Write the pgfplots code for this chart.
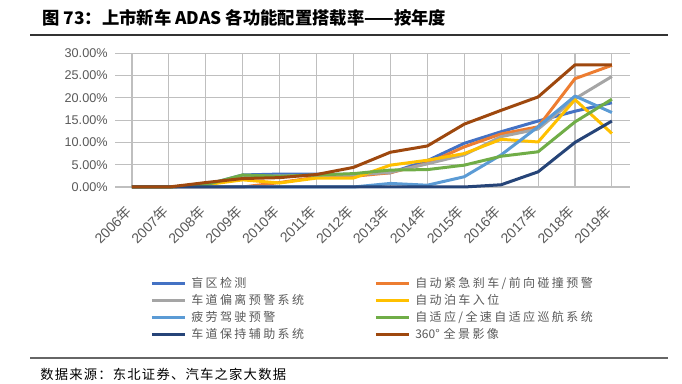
\documentclass[border=0pt]{standalone}
\usepackage{fontspec}
\usepackage{pgfplots}
\pgfplotsset{compat=1.18}
\setmainfont{Liberation Sans}
\newfontfamily\cjk{Noto Sans CJK SC}
\newfontfamily\cjkls{Noto Sans CJK SC}[LetterSpace=20]
\newfontfamily\cjksrc{Noto Sans CJK SC}[LetterSpace=9]
\definecolor{cBlue}{HTML}{4472C4}
\definecolor{cOrange}{HTML}{ED7D31}
\definecolor{cGray}{HTML}{A5A5A5}
\definecolor{cGold}{HTML}{FFC000}
\definecolor{cLBlue}{HTML}{5B9BD5}
\definecolor{cGreen}{HTML}{70AD47}
\definecolor{cDBlue}{HTML}{264478}
\definecolor{cBrown}{HTML}{9E480E}
\definecolor{txt}{HTML}{595959}
\definecolor{grid}{HTML}{D9D9D9}
\begin{document}
\begin{tikzpicture}
\path[use as bounding box] (0,0) rectangle (511.5pt,288pt);
\node[anchor=west,inner sep=0pt] at (31.5pt,274.5pt) {\fontsize{13pt}{15pt}\cjk\bfseries 图 73：上市新车 ADAS 各功能配置搭载率——按年度};
\draw[line width=0.8pt,black!80] (22.5pt,261.75pt) -- (501pt,261.75pt);
\draw[line width=0.8pt,black!60] (22.5pt,19.5pt) -- (501pt,19.5pt);
\node[anchor=west,inner sep=0pt] at (30pt,7.5pt) {\fontsize{10pt}{12pt}\cjksrc 数据来源：东北证券、汽车之家大数据};
\begin{axis}[
  at={(86.25pt,147.75pt)}, anchor=south west,
  scale only axis, width=386.25pt, height=100.3pt,
  xmin=-0.46, xmax=13.49, ymin=0, ymax=30,
  clip=false,
  axis line style={draw=none},
  major tick length=0pt,
  ytick={0,5,10,15,20,25,30},
  yticklabels={0.00\%,5.00\%,10.00\%,15.00\%,20.00\%,25.00\%,30.00\%},
  ymajorgrids, grid style={grid, line width=0.8pt},
  xtick={0,...,13},
  xticklabels={2006{\cjk 年},2007{\cjk 年},2008{\cjk 年},2009{\cjk 年},2010{\cjk 年},2011{\cjk 年},2012{\cjk 年},2013{\cjk 年},2014{\cjk 年},2015{\cjk 年},2016{\cjk 年},2017{\cjk 年},2018{\cjk 年},2019{\cjk 年}},
  yticklabel style={font=\fontsize{9.5pt}{11pt}\selectfont, text=txt, xshift=-2pt},
  xticklabel style={font=\fontsize{10.5pt}{12pt}\selectfont, text=txt, rotate=45, anchor=east},
  xticklabel shift=14pt,
  legend columns=2,
  legend style={at={(0.068,-0.673)}, anchor=north west, draw=none, fill=none,
    inner sep=0pt, row sep=2.75pt,
    font=\fontsize{9pt}{10pt}\cjkls\color{txt},
    nodes={inner sep=0pt, text height=8pt, text depth=2pt},
    /tikz/column sep=3.75pt},
  legend cell align=left,
  legend image code/.code={\draw[#1, line width=2.25pt] (0pt,0pt) -- (24.75pt,0pt);},
  every axis plot/.append style={line width=2.25pt, mark=none, line join=round},
]
\addplot[cBlue] coordinates {(0,0)(1,0)(2,0.5)(3,2.7)(4,2.9)(5,2.9)(6,2.8)(7,3.2)(8,5.9)(9,9.8)(10,12.4)(11,14.8)(12,17.0)(13,18.9)};
\addplot[cOrange] coordinates {(0,0)(1,0)(2,0)(3,0)(4,1.0)(5,2.2)(6,2.4)(7,3.2)(8,5.3)(9,9.0)(10,11.9)(11,13.5)(12,24.3)(13,27.3)};
\addplot[cGray] coordinates {(0,0)(1,0)(2,0.5)(3,2.3)(4,2.5)(5,2.6)(6,2.7)(7,3.3)(8,5.2)(9,7.2)(10,11.3)(11,13.0)(12,19.8)(13,24.8)};
\addplot[cGold] coordinates {(0,0)(1,0)(2,0.5)(3,1.6)(4,0.9)(5,2.0)(6,2.0)(7,4.9)(8,6.0)(9,7.5)(10,10.7)(11,10.1)(12,19.6)(13,12.0)};
\addplot[cLBlue] coordinates {(0,0)(1,0)(2,0)(3,0)(4,0)(5,0)(6,0)(7,0.8)(8,0.4)(9,2.3)(10,7.2)(11,13.5)(12,20.4)(13,16.7)};
\addplot[cGreen] coordinates {(0,0)(1,0)(2,0.5)(3,2.7)(4,2.4)(5,2.7)(6,3.0)(7,3.8)(8,3.9)(9,4.9)(10,6.9)(11,7.9)(12,14.6)(13,19.7)};
\addplot[cDBlue] coordinates {(0,0)(1,0)(2,0)(3,0)(4,0)(5,0)(6,0)(7,0)(8,0)(9,0)(10,0.5)(11,3.4)(12,10.0)(13,14.8)};
\addplot[cBrown] coordinates {(0,0)(1,0)(2,1.0)(3,1.9)(4,2.1)(5,2.8)(6,4.4)(7,7.8)(8,9.2)(9,14.1)(10,17.2)(11,20.2)(12,27.4)(13,27.4)};
\legend{\makebox[133.5pt][l]{盲区检测},自动紧急刹车/前向碰撞预警,\makebox[133.5pt][l]{车道偏离预警系统},自动泊车入位,\makebox[133.5pt][l]{疲劳驾驶预警},自适应/全速自适应巡航系统,\makebox[133.5pt][l]{车道保持辅助系统},{\cjk 360°}\hspace{3pt}全景影像}
\end{axis}
\end{tikzpicture}
\end{document}
